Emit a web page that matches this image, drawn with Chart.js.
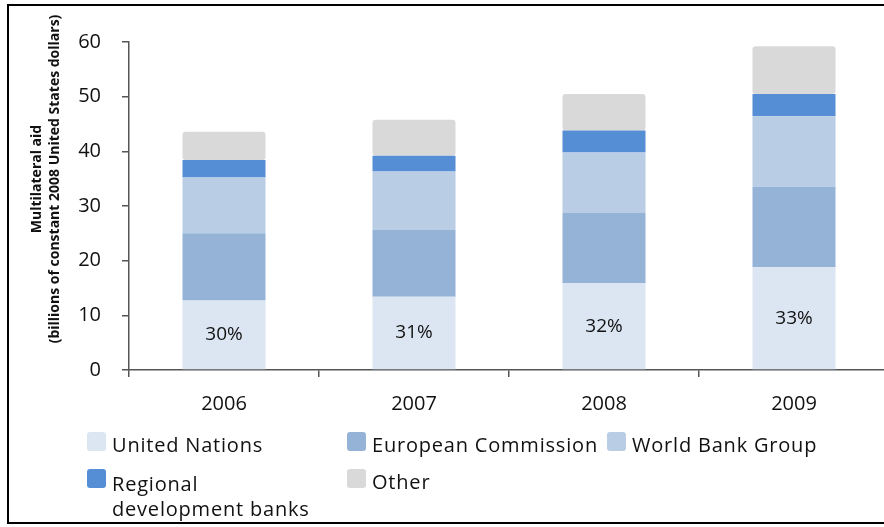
<!DOCTYPE html>
<html>
<head>
<meta charset="utf-8">
<script src="https://cdn.jsdelivr.net/npm/chart.js@4"></script>
<style>
  html, body { margin: 0; padding: 0; background: #fff; overflow: hidden; width: 884px; height: 527px; }
  #wrap { position: relative; width: 884px; height: 527px; overflow: hidden; }
  canvas { position: absolute; left: 0; top: 0; }
  #frame { position: absolute; left: 7px; top: 4px; width: 1000px; height: 520px; box-sizing: border-box; border: 2px solid #000; pointer-events: none; }
</style>
</head>
<body>
<div id="wrap">
  <canvas id="c" width="900" height="527"></canvas>
  <div id="frame"></div>
</div>
<script>
const categories = ['2006', '2007', '2008', '2009'];
const seriesNames = ['United Nations', 'European Commission', 'World Bank Group', 'Regional development banks', 'Other'];
const unitedNations = [12.7, 13.4, 15.9, 18.8];
const europeanCommission = [12.3, 12.2, 12.9, 14.7];
const worldBankGroup = [10.2, 10.7, 11.0, 12.9];
const regionalBanks = [3.2, 2.9, 4.0, 4.1];
const otherAid = [5.2, 6.6, 6.7, 8.7];
const unShareLabels = ['30%', '31%', '32%', '33%'];
const yAxisTitle = ['Multilateral aid', '(billions of constant 2008 United States dollars)'];

const colors = ['#dce6f2', '#95b3d7', '#b9cde5', '#558ed5', '#d9d9d9'];
const FONT = "'Open Sans', 'DejaVu Sans', sans-serif";
const TEXT = '#111111';

const seriesValues = [unitedNations, europeanCommission, worldBankGroup, regionalBanks, otherAid];

const datasets = seriesValues.map((vals, i) => ({
  label: seriesNames[i],
  data: vals,
  backgroundColor: colors[i],
  borderWidth: 0,
  borderRadius: 3,
  borderSkipped: false,
  barPercentage: 0.437,
  categoryPercentage: 1.0
}));

const overlayPlugin = {
  id: 'overlay',
  afterDatasetsDraw(chart) {
    const ctx = chart.ctx;
    const meta = chart.getDatasetMeta(0);
    ctx.save();
    ctx.font = '19px ' + FONT;
    ctx.fillStyle = TEXT;
    ctx.textAlign = 'center';
    ctx.textBaseline = 'middle';
    meta.data.forEach((bar, i) => {
      const p = bar.getProps(['x', 'y', 'base'], true);
      ctx.fillText(unShareLabels[i], p.x, (p.y + p.base) / 2);
    });
    ctx.restore();
  },
  afterDraw(chart) {
    const ctx = chart.ctx;
    // Y-axis title (two lines)
    ctx.save();
    ctx.fillStyle = TEXT;
    ctx.font = 'bold 14px ' + FONT;
    ctx.textAlign = 'center';
    ctx.textBaseline = 'middle';
    [[37, yAxisTitle[0]], [55, yAxisTitle[1]]].forEach(([x, t]) => {
      ctx.save();
      ctx.translate(x, 179);
      ctx.rotate(-Math.PI / 2);
      ctx.fillText(t, 0, 0);
      ctx.restore();
    });
    ctx.restore();

    // Legend
    const items = [
      { i: 0, bx: 87, by: 432, lines: [seriesNames[0]], ty: [452] },
      { i: 1, bx: 347, by: 432, lines: [seriesNames[1]], ty: [452] },
      { i: 2, bx: 607, by: 432, lines: [seriesNames[2]], ty: [452] },
      { i: 3, bx: 87, by: 469, lines: ['Regional', 'development banks'], ty: [491, 516] },
      { i: 4, bx: 347, by: 469, lines: [seriesNames[4]], ty: [489] }
    ];
    ctx.save();
    ctx.font = '20px ' + FONT;
    ctx.letterSpacing = '0.8px';
    ctx.fillStyle = TEXT;
    ctx.textAlign = 'left';
    ctx.textBaseline = 'alphabetic';
    items.forEach(it => {
      ctx.fillStyle = colors[it.i];
      ctx.beginPath();
      ctx.roundRect(it.bx, it.by, 19, 19, 3);
      ctx.fill();
      ctx.fillStyle = TEXT;
      it.lines.forEach((ln, k) => ctx.fillText(ln, it.bx + 25, it.ty[k]));
    });
    ctx.restore();
  }
};

new Chart(document.getElementById('c'), {
  type: 'bar',
  data: { labels: categories, datasets },
  options: {
    responsive: false,
    animation: false,
    layout: { padding: { left: 0, top: 42, right: 11, bottom: 0 } },
    plugins: { legend: { display: false }, tooltip: { enabled: false }, title: { display: false } },
    scales: {
      x: {
        stacked: true,
        grid: { display: true, drawOnChartArea: false, drawTicks: true, tickLength: 7, color: '#555', lineWidth: 1.5, offset: true },
        border: { display: true, color: '#555', width: 1.5 },
        ticks: { color: TEXT, font: { family: FONT, size: 20 }, padding: 15 },
        afterFit(s) { s.height = 157; }
      },
      y: {
        stacked: true,
        min: 0,
        max: 60,
        ticks: { stepSize: 10, color: TEXT, font: { family: FONT, size: 20 }, padding: 21 },
        grid: { display: true, drawOnChartArea: false, drawTicks: true, tickLength: 7, color: '#555', lineWidth: 1.5 },
        border: { display: true, color: '#555', width: 1.5 },
        afterFit(s) { s.width = 129; }
      }
    }
  },
  plugins: [overlayPlugin]
});
</script>
</body>
</html>
